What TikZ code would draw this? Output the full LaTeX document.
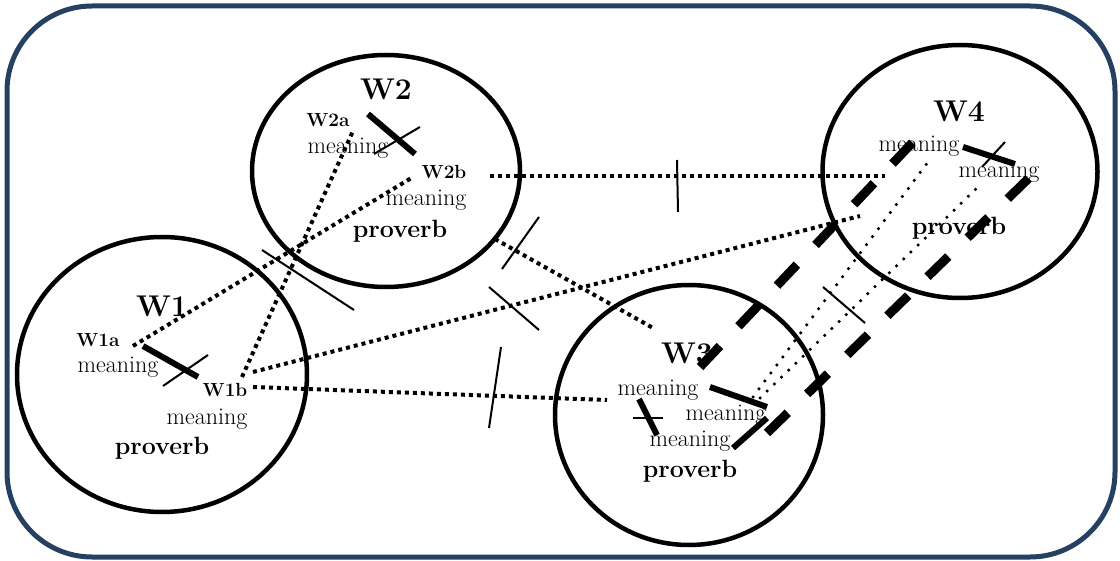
\documentclass[tikz,border=0pt]{standalone}
\usetikzlibrary{shapes.geometric}
\definecolor{framenavy}{RGB}{37,64,97}
\tikzstyle{bubble}=[ellipse,draw,line width=4.5pt,inner sep=0]
\tikzstyle{wordlbl}=[font=\fontsize{30}{32}\selectfont\bfseries,inner sep=0]
\tikzstyle{senselbl}=[font=\fontsize{19}{21}\selectfont\bfseries,inner sep=0]
\tikzstyle{meanlbl}=[font=\fontsize{24}{26}\selectfont,inner sep=0]
\tikzstyle{provlbl}=[font=\fontsize{25}{27}\selectfont\bfseries,inner sep=0]
\tikzstyle{link}=[line width=4pt,dash pattern=on 4pt off 4pt]
\tikzstyle{finelink}=[line width=3.5pt,line cap=round,dash pattern=on 0pt off 10pt]
\tikzstyle{strong}=[line width=6pt]
\tikzstyle{cutline}=[line width=2pt]
\tikzstyle{bigdash}=[line width=9pt,dash pattern=on 29pt off 27pt]
\newcommand{\lbl}[4]{\node[#1] (#2) at (#3) {#4};}
\newcommand{\linkseg}[4]{\coordinate (#1s) at (#3); \coordinate (#1e) at (#4); \draw[#2] (#1s) -- (#1e);}

\begin{document}
\begin{tikzpicture}[x=1pt,y=-1pt]
\useasboundingbox (0,0) rectangle (1120,561);
\draw[framenavy,line width=5pt,rounded corners=85pt] (7,6) rectangle (1115,557);

\node[bubble,minimum width=290pt,minimum height=275pt] (c1) at (162,374.5) {};
\node[bubble,minimum width=268pt,minimum height=232pt] (c2) at (386,171) {};
\node[bubble,minimum width=268pt,minimum height=260pt] (c3) at (689,415) {};
\node[bubble,minimum width=275pt,minimum height=253pt] (c4) at (960,171.5) {};

\lbl{wordlbl}{w1}{162,306}{W1}
\lbl{senselbl}{w1a}{98,340}{W1a}
\lbl{meanlbl}{m1a}{118,367}{meaning}
\lbl{senselbl}{w1b}{225,390}{W1b}
\lbl{meanlbl}{m1b}{207,419}{meaning}
\lbl{provlbl}{p1}{162,448}{proverb}

\lbl{wordlbl}{w2}{386,89}{W2}
\lbl{senselbl}{w2a}{328,120}{W2a}
\lbl{meanlbl}{m2a}{348,148}{meaning}
\lbl{senselbl}{w2b}{444,172}{W2b}
\lbl{meanlbl}{m2b}{426,200}{meaning}
\lbl{provlbl}{p2}{400,231}{proverb}

\lbl{wordlbl}{w3}{687,353}{W3}
\lbl{meanlbl}{m3a}{658,390}{meaning}
\lbl{meanlbl}{m3b}{726,415}{meaning}
\lbl{meanlbl}{m3c}{690,441}{meaning}
\lbl{provlbl}{p3}{690,471}{proverb}

\lbl{wordlbl}{w4}{959,111}{W4}
\lbl{meanlbl}{m4a}{919,146}{meaning}
\lbl{meanlbl}{m4b}{999,172}{meaning}
\lbl{provlbl}{p4}{959,228}{proverb}

\linkseg{l12a}{link}{133,346}{413,177}
\linkseg{l12b}{link}{242,377}{353,131}
\linkseg{l14}{link}{253,372}{860,216}
\linkseg{l13}{link}{253,387}{607,400}
\linkseg{l23}{link}{495,239}{653,328}
\linkseg{l24}{link}{490,176}{885,176}
\linkseg{l34a}{finelink}{753,397}{928,162}
\linkseg{l34b}{finelink}{760,398}{977,188}
\linkseg{d34a}{bigdash}{700,367}{913,142}
\linkseg{d34b}{bigdash}{767,433}{1030,177}

\linkseg{b1}{strong}{143,346}{198,377}
\linkseg{b2}{strong}{368,114}{415,154}
\linkseg{b3a}{strong}{710,387}{767,407}
\linkseg{b3b}{strong}{733,448}{767,418}
\linkseg{b3c}{strong}{639,399}{657,435}
\linkseg{b4}{strong}{963,147}{1015,164}

\linkseg{x1}{cutline}{163,386}{208,355}
\linkseg{x2}{cutline}{374,154}{420,127}
\linkseg{x3}{cutline}{633,418}{663,418}
\linkseg{x4}{cutline}{982,167}{1005,142}
\linkseg{x12}{cutline}{262,250}{354,310}
\linkseg{x14}{cutline}{489,287}{539,330}
\linkseg{x13}{cutline}{501,347}{489,428}
\linkseg{x23}{cutline}{539,217}{502,269}
\linkseg{x24}{cutline}{677,160}{678,212}
\linkseg{x34}{cutline}{823,287}{865,323}
\end{tikzpicture}
\end{document}
